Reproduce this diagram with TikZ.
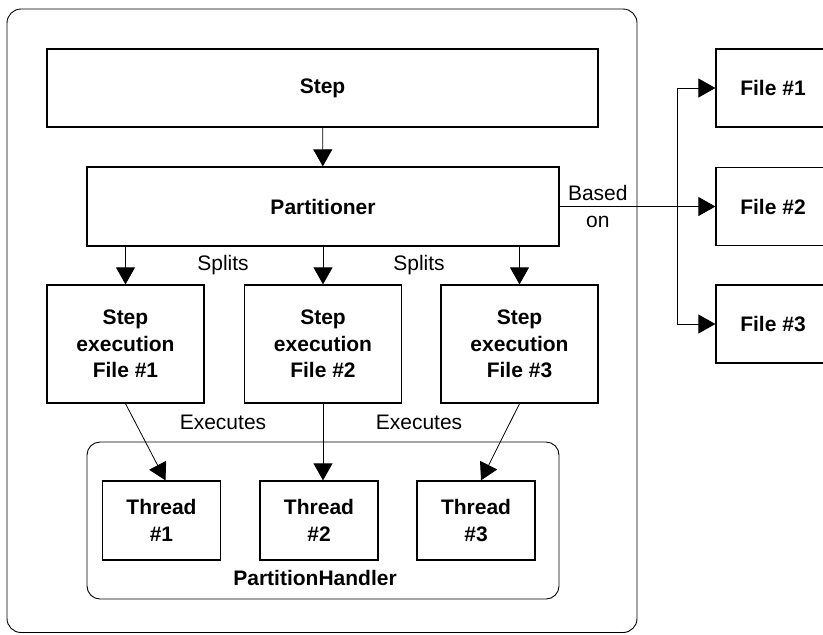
\documentclass[tikz,border=0pt]{standalone}
\usepackage{fontspec}
\setmainfont{Liberation Sans}
\usetikzlibrary{arrows.meta,positioning}

\begin{document}
\begin{tikzpicture}[x=0.5pt,y=-0.5pt,
  every node/.style={font=\fontsize{10.5pt}{13.25pt}\selectfont},
  box/.style={draw,line width=0.65pt,inner sep=0pt,align=center,font=\fontsize{10.5pt}{13.25pt}\selectfont\bfseries},
  frame/.style={draw,line width=0.45pt,rounded corners=7pt},
  arr/.style={line width=0.4pt,-{Triangle[length=8.5pt,width=9.5pt]}}]
\useasboundingbox (0,0) rectangle (823,634);
% containers
\draw[frame] (7,9) rectangle (637,632.5);
\draw[frame,rounded corners=6.5pt] (87,442) rectangle (559,599);
% main column
\node[box,minimum width=275.5pt,minimum height=39pt] (step) at (322.5,88) {Step};
\node[box,minimum width=236pt,minimum height=39.5pt] (part) at (323,206.5) {Partitioner};
\node[box,minimum width=78.5pt,minimum height=59pt] (e1) at (125.5,344) {Step\\execution\\File \#1};
\node[box,minimum width=78.5pt,minimum height=59pt] (e2) at (323,344) {Step\\execution\\File \#2};
\node[box,minimum width=78.5pt,minimum height=59pt] (e3) at (519.5,344) {Step\\execution\\File \#3};
\node[box,minimum width=59pt,minimum height=39.5pt] (t1) at (161.5,520.5) {Thread\\\#1};
\node[box,minimum width=59pt,minimum height=39.5pt] (t2) at (319,520.5) {Thread\\\#2};
\node[box,minimum width=59pt,minimum height=39.5pt] (t3) at (476,520.5) {Thread\\\#3};
\node[font=\fontsize{10.5pt}{13.25pt}\selectfont\bfseries] (ph) at (315,578) {PartitionHandler};
% files
\node[box,minimum width=57pt,minimum height=39pt] (f1) at (773,88) {File \#1};
\node[box,minimum width=57pt,minimum height=39pt] (f2) at (773,206.5) {File \#2};
\node[box,minimum width=57pt,minimum height=39pt] (f3) at (773,324) {File \#3};
\coordinate (fork) at (677,206.5);
% labels
\node (s1) at (223,265) {Splits};
\node (s2) at (419,265) {Splits};
\node (x1) at (223,422) {Executes};
\node (x2) at (419,422) {Executes};
% connectors
\draw[arr] (step) -- (part);
\draw[arr] (part.south -| e1) -- (e1.north);
\draw[arr] (part.south -| e2) -- (e2.north);
\draw[arr] (part.south -| e3) -- (e3.north);
\draw[arr] (e1.south) -- ([xshift=2pt]t1.north);
\draw[arr] (e2.south) -- (e2.south |- t2.north);
\draw[arr] (e3.south) -- ([xshift=2.5pt]t3.north);
\draw[arr] (part.east) -- node[pos=0.245,align=center] (based) {Based\\on} (f2.west);
\draw[arr] (fork) |- (f1.west);
\draw[arr] (fork) |- (f3.west);
\end{tikzpicture}
\end{document}
